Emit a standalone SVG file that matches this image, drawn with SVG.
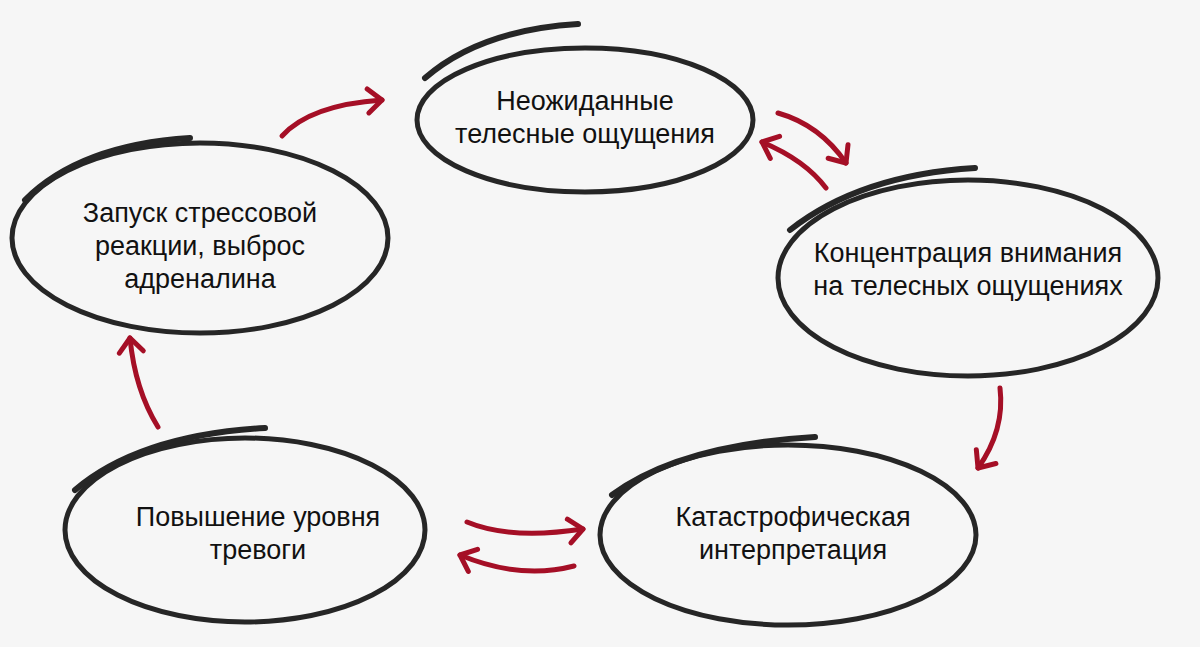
<svg xmlns="http://www.w3.org/2000/svg" width="1200" height="647" viewBox="0 0 1200 647">
<style>
.n{fill:none;stroke:#262626;stroke-width:5;stroke-linecap:round}
.t{fill:none;stroke:#262626;stroke-width:6;stroke-linecap:round}
.a{fill:none;stroke:#a50f26;stroke-width:5;stroke-linecap:round;marker-end:url(#h)}
text{font-family:"Liberation Sans",Arial,sans-serif;font-size:27px;fill:#111;text-anchor:middle}
</style>
<defs>
<marker id="h" markerUnits="userSpaceOnUse" markerWidth="40" markerHeight="40" refX="20" refY="20" orient="auto" viewBox="0 0 40 40">
<path d="M6 8 L20 20 L6 32" fill="none" stroke="#a50f26" stroke-width="5" stroke-linecap="round" stroke-linejoin="round"/>
</marker>
</defs>
<rect width="1200" height="647" fill="#f6f6f6"/>
<g id="n1"><ellipse class="n" cx="585" cy="120" rx="168" ry="72"/><path class="t" d="M578 24 Q480 30 425 78"/><text x="585" y="110">Неожиданные</text><text x="585" y="143">телесные ощущения</text></g>
<g id="n2"><ellipse class="n" cx="968" cy="278" rx="190" ry="98"/><path class="t" d="M975 168 Q860 175 790 230"/><text x="968" y="262">Концентрация внимания</text><text x="968" y="295">на телесных ощущениях</text></g>
<g id="n3"><ellipse class="n" cx="788" cy="535" rx="188" ry="90"/><path class="t" d="M815 437 Q680 445 612 495"/><text x="793" y="526">Катастрофическая</text><text x="793" y="559">интерпретация</text></g>
<g id="n4"><ellipse class="n" cx="245" cy="530" rx="180" ry="92"/><path class="t" d="M265 428 Q140 435 75 490"/><text x="258" y="526">Повышение уровня</text><text x="258" y="559">тревоги</text></g>
<g id="n5"><ellipse class="n" cx="200" cy="238" rx="188" ry="95"/><path class="t" d="M190 138 Q80 145 25 200"/><text x="200" y="222">Запуск стрессовой</text><text x="200" y="255">реакции, выброс</text><text x="200" y="288">адреналина</text></g>
<g id="edges">
<path class="a" d="M282 136 Q310 105 382 100"/>
<path class="a" d="M778 113 Q820 125 846 163"/>
<path class="a" d="M826 188 Q805 160 762 142"/>
<path class="a" d="M1000 388 Q1005 430 978 468"/>
<path class="a" d="M467 522 Q510 540 583 529"/>
<path class="a" d="M574 566 Q520 580 460 555"/>
<path class="a" d="M158 427 Q135 390 130 338"/>
</g>
</svg>
